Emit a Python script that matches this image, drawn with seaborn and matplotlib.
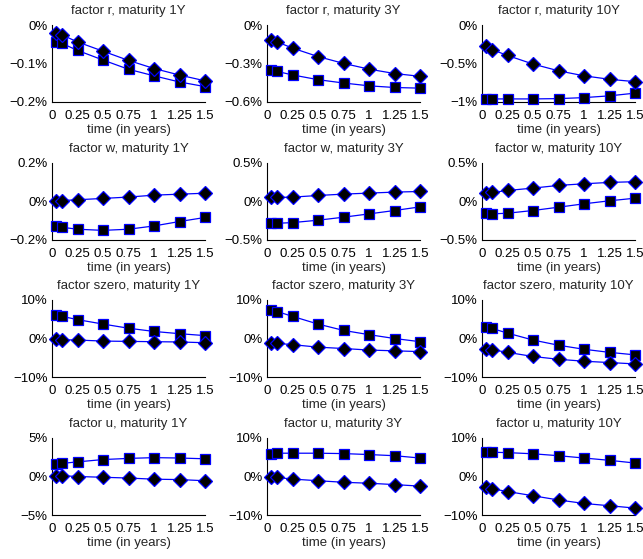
import numpy as np
import pandas as pd
import matplotlib
matplotlib.use("Agg")
import matplotlib.pyplot as plt
from matplotlib.ticker import FuncFormatter
import seaborn as sns

# Horizon grid (years) shared by all panels
horizons = [0.04, 0.1, 0.25, 0.5, 0.75, 1.0, 1.25, 1.5]

factors = ["r", "w", "szero", "u"]
maturities = ["1Y", "3Y", "10Y"]

# Responses in percent: diamond series and square series, one list per panel
diamond_r_1y = [-0.022, -0.026, -0.044, -0.068, -0.092, -0.113, -0.130, -0.145]
square_r_1y = [-0.044, -0.048, -0.066, -0.091, -0.115, -0.132, -0.148, -0.160]
diamond_r_3y = [-0.114, -0.132, -0.180, -0.246, -0.299, -0.344, -0.378, -0.400]
square_r_3y = [-0.352, -0.362, -0.389, -0.426, -0.452, -0.474, -0.487, -0.492]
diamond_r_10y = [-0.278, -0.320, -0.396, -0.507, -0.595, -0.660, -0.705, -0.736]
square_r_10y = [-0.960, -0.960, -0.960, -0.960, -0.956, -0.943, -0.920, -0.885]

diamond_w_1y = [0.005, 0.005, 0.009, 0.016, 0.023, 0.033, 0.038, 0.043]
square_w_1y = [-0.127, -0.134, -0.144, -0.150, -0.144, -0.127, -0.104, -0.083]
diamond_w_3y = [0.052, 0.052, 0.057, 0.078, 0.096, 0.109, 0.122, 0.130]
square_w_3y = [-0.283, -0.283, -0.274, -0.243, -0.204, -0.161, -0.117, -0.070]
diamond_w_10y = [0.109, 0.117, 0.143, 0.174, 0.209, 0.230, 0.248, 0.257]
square_w_10y = [-0.152, -0.161, -0.152, -0.117, -0.074, -0.030, 0.009, 0.043]

diamond_s_1y = [-0.25, -0.33, -0.40, -0.67, -0.75, -0.83, -0.90, -1.10]
square_s_1y = [6.0, 5.75, 4.9, 3.75, 2.67, 1.83, 1.25, 0.75]
diamond_s_3y = [-1.1, -1.25, -1.6, -2.25, -2.6, -3.0, -3.2, -3.4]
square_s_3y = [7.4, 7.0, 5.75, 3.75, 2.1, 1.0, 0.0, -0.83]
diamond_s_10y = [-2.75, -2.9, -3.6, -4.67, -5.4, -5.9, -6.25, -6.6]
square_s_10y = [3.1, 2.6, 1.4, -0.4, -1.75, -2.8, -3.6, -4.25]

diamond_u_1y = [0.1, 0.1, 0.0, -0.1, -0.2, -0.35, -0.4, -0.55]
square_u_1y = [1.6, 1.7, 1.9, 2.2, 2.35, 2.45, 2.4, 2.3]
diamond_u_3y = [0.0, -0.25, -0.67, -1.1, -1.5, -1.75, -2.1, -2.5]
square_u_3y = [5.9, 6.05, 6.05, 6.05, 5.95, 5.7, 5.4, 4.8]
diamond_u_10y = [-2.8, -3.2, -3.9, -5.0, -6.1, -7.0, -7.6, -8.2]
square_u_10y = [6.3, 6.3, 6.2, 5.9, 5.4, 4.8, 4.2, 3.5]

diamonds = [
    [diamond_r_1y, diamond_r_3y, diamond_r_10y],
    [diamond_w_1y, diamond_w_3y, diamond_w_10y],
    [diamond_s_1y, diamond_s_3y, diamond_s_10y],
    [diamond_u_1y, diamond_u_3y, diamond_u_10y],
]
squares = [
    [square_r_1y, square_r_3y, square_r_10y],
    [square_w_1y, square_w_3y, square_w_10y],
    [square_s_1y, square_s_3y, square_s_10y],
    [square_u_1y, square_u_3y, square_u_10y],
]

# y-axis ticks per panel (percent)
y_ticks = [
    [[-0.2, -0.1, 0], [-0.6, -0.3, 0], [-1, -0.5, 0]],
    [[-0.2, 0, 0.2], [-0.5, 0, 0.5], [-0.5, 0, 0.5]],
    [[-10, 0, 10], [-10, 0, 10], [-10, 0, 10]],
    [[-5, 0, 5], [-10, 0, 10], [-10, 0, 10]],
]
x_ticks = [0, 0.25, 0.5, 0.75, 1, 1.25, 1.5]
x_ticklabels = ["0", "0.25", "0.5", "0.75", "1", "1.25", "1.5"]

sns.set_theme(style="white")
plt.rcParams["font.family"] = ["Liberation Sans", "DejaVu Sans"]
plt.rcParams["axes.unicode_minus"] = True

W, H = 643, 559
fig = plt.figure(figsize=(W / 100, H / 100), dpi=100)

col_left = [52, 267, 482]
ax_width = 153
row_top = [25, 163, 300, 438]
ax_height = 77
FS = 9.5


def pct_fmt(v, _):
    s = f"{v:g}%"
    return s.replace("-", "\u2212")


for i, fac in enumerate(factors):
    for j, mat in enumerate(maturities):
        left = col_left[j] / W
        bottom = 1 - (row_top[i] + ax_height) / H
        ax = fig.add_axes([left, bottom, ax_width / W, ax_height / H])
        df = pd.DataFrame({
            "t": horizons * 2,
            "v": diamonds[i][j] + squares[i][j],
            "kind": ["diamond"] * 8 + ["square"] * 8,
        })
        for kind, mk, ms in [("square", "s", 6.5), ("diamond", "D", 7.4)]:
            sub = df[df["kind"] == kind]
            sns.lineplot(data=sub, x="t", y="v", ax=ax, color="#0000ff",
                         linewidth=0.9, marker=mk, markersize=ms,
                         markerfacecolor="black", markeredgecolor="#0000ff",
                         markeredgewidth=0.9, clip_on=False, zorder=3)
        yt = y_ticks[i][j]
        ax.set_ylim(yt[0], yt[-1])
        ax.set_yticks(yt)
        ax.yaxis.set_major_formatter(FuncFormatter(pct_fmt))
        ax.set_xlim(0, 1.5)
        ax.set_xticks(x_ticks)
        ax.set_xticklabels(x_ticklabels)
        ax.set_xlabel("time (in years)", fontsize=FS, labelpad=2)
        ax.set_ylabel("")
        ax.set_title(f"factor {fac}, maturity {mat}", fontsize=FS, pad=8)
        ax.tick_params(axis="both", labelsize=FS, direction="in", length=2.5,
                       width=0.6, colors="black")
        ax.tick_params(axis="x", pad=5.5)
        ax.tick_params(axis="y", pad=3)
        sns.despine(ax=ax)
        for side in ["left", "bottom"]:
            ax.spines[side].set_color("black")
            ax.spines[side].set_linewidth(0.8)
        ax.set_facecolor("white")

fig.savefig("out.png", dpi=100, facecolor="white")
